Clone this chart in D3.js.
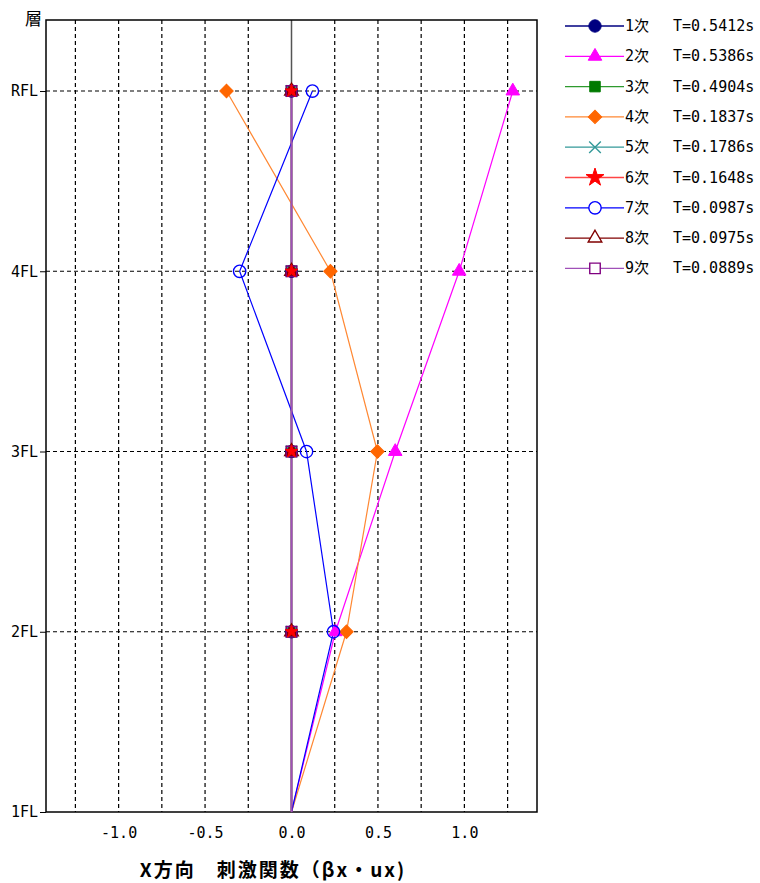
<!DOCTYPE html>
<html>
<head>
<meta charset="utf-8">
<script src="https://cdn.jsdelivr.net/npm/d3@7"></script>
<style>
  body { margin: 0; background: #fff; }
  text { font-family: "DejaVu Sans Mono", "Noto Sans CJK JP", monospace; }
</style>
</head>
<body>
<div id="chart"></div>
<script>
// floors, bottom to top
var floors = ["1FL", "2FL", "3FL", "4FL", "RFL"];
var xTicks = [-1.0, -0.5, 0.0, 0.5, 1.0];

var modeNames = ["1次", "2次", "3次", "4次", "5次", "6次", "7次", "8次", "9次"];
var periods = ["T=0.5412s", "T=0.5386s", "T=0.4904s", "T=0.1837s", "T=0.1786s",
               "T=0.1648s", "T=0.0987s", "T=0.0975s", "T=0.0889s"];

// βx・ux per floor (1FL..RFL)
var mode1 = [0, 0, 0, 0, 0];
var mode2 = [0, 0.254, 0.60, 0.97, 1.28];
var mode3 = [0, 0, 0, 0, 0];
var mode4 = [0, 0.318, 0.497, 0.225, -0.376];
var mode5 = [0, 0, 0, 0, 0];
var mode6 = [0, 0, 0, 0, 0];
var mode7 = [0, 0.243, 0.087, -0.30, 0.121];
var mode8 = [0, 0, 0, 0, 0];
var mode9 = [0, 0, 0, 0, 0];

var allModes = [mode1, mode2, mode3, mode4, mode5, mode6, mode7, mode8, mode9];

var styles = [
    {line: "#000080", fill: "#000080", stroke: "#000080", sym: d3.symbolCircle, size: 120},
    {line: "#ff00ff", fill: "#ff00ff", stroke: "#ff00ff", sym: d3.symbolTriangle, size: 80},
    {line: "#2e9a2e", fill: "#007a00", stroke: "#007a00", sym: d3.symbolSquare, size: 110},
    {line: "#ff8833", fill: "#ff6600", stroke: "#ff6600", sym: d3.symbolSquare, size: 90, rot: 45},
    {line: "#339999", fill: "none", stroke: "#339999", sym: d3.symbolTimes, size: 90},
    {line: "#ff4444", fill: "#ff0000", stroke: "#ff0000", sym: d3.symbolStar, size: 100, plotSize: 50},
    {line: "#0000ff", fill: "none", stroke: "#0000ff", sym: d3.symbolCircle, size: 120},
    {line: "#800000", fill: "none", stroke: "#800000", sym: d3.symbolTriangle, size: 80, plotFill: "#800000"},
    {line: "#a050b8", fill: "none", stroke: "#800080", sym: d3.symbolSquare, size: 110}
];

var svgWidth = 760, svgHeight = 883;
var svg = d3.select("#chart").append("svg")
    .attr("width", svgWidth)
    .attr("height", svgHeight);

var plotLeft = 46, plotRight = 537, plotTop = 20, plotBottom = 812;

var x = d3.scaleLinear().domain([-1.42, 1.42]).range([plotLeft, plotRight]);
var y = d3.scaleLinear().domain([0, 4.394]).range([plotBottom, plotTop]);

// vertical grid every 0.25
var grid = svg.append("g");
d3.range(-1.25, 1.26, 0.25).forEach(function (v) {
    if (Math.abs(v) < 1e-6) return;
    grid.append("line")
        .attr("x1", x(v)).attr("x2", x(v))
        .attr("y1", plotTop).attr("y2", plotBottom)
        .attr("stroke", "#000").attr("stroke-width", 1.2)
        .attr("stroke-dasharray", "4,3");
});
// horizontal grid on floors
floors.forEach(function (f, i) {
    if (i === 0) return;
    grid.append("line")
        .attr("x1", plotLeft).attr("x2", plotRight)
        .attr("y1", y(i)).attr("y2", y(i))
        .attr("stroke", "#000").attr("stroke-width", 1.2)
        .attr("stroke-dasharray", "4,3");
});

// zero line
svg.append("line")
    .attr("x1", x(0)).attr("x2", x(0))
    .attr("y1", plotTop).attr("y2", plotBottom)
    .attr("stroke", "#555").attr("stroke-width", 1.5);

// axes
var yAxis = d3.axisLeft(y)
    .tickValues(d3.range(floors.length))
    .tickFormat(function (d) { return floors[d]; })
    .tickSize(6).tickPadding(2);
var gy = svg.append("g").attr("transform", "translate(" + plotLeft + ",0)").call(yAxis);
gy.select(".domain").remove();
gy.selectAll("text").attr("font-size", 15).attr("fill", "#000")
    .style("font-family", "'DejaVu Sans Mono', monospace");
gy.selectAll("line").attr("stroke", "#000");

var xAxis = d3.axisBottom(x)
    .tickValues(xTicks)
    .tickFormat(d3.format(".1f"))
    .tickSize(0).tickPadding(15);
var gx = svg.append("g").attr("transform", "translate(0," + plotBottom + ")").call(xAxis);
gx.select(".domain").remove();
gx.selectAll("text").attr("font-size", 15).attr("fill", "#000")
    .text(function (d) { return d3.format(".1f")(d).replace("−", "-"); });

// frame
svg.append("rect")
    .attr("x", plotLeft).attr("y", plotTop)
    .attr("width", plotRight - plotLeft).attr("height", plotBottom - plotTop)
    .attr("fill", "none").attr("stroke", "#000").attr("stroke-width", 1.5);

var line = d3.line()
    .x(function (d) { return x(d); })
    .y(function (d, i) { return y(i); });

function symbolPath(s, size) {
    return d3.symbol().type(s.sym).size(size || s.size)();
}

var lineLayer = svg.append("g");
var markLayer = svg.append("g");
var topLayer = svg.append("g");   // stars stay visible on the stacked zero points

allModes.forEach(function (vals, k) {
    var s = styles[k];
    lineLayer.append("path")
        .attr("d", line(vals))
        .attr("fill", "none")
        .attr("stroke", s.line)
        .attr("stroke-width", k === 8 ? 1.8 : 1.2);
});

allModes.forEach(function (vals, k) {
    var s = styles[k];
    var layer = s.sym === d3.symbolStar ? topLayer : markLayer;
    layer.append("g").selectAll("path")
        .data(vals.slice(1))
        .enter()
        .append("path")
        .attr("d", symbolPath(s, s.plotSize))
        .attr("transform", function (d, i) {
            return "translate(" + x(d) + "," + y(i + 1) + ")" + (s.rot ? " rotate(" + s.rot + ")" : "");
        })
        .attr("fill", s.plotFill || (s.fill === "none" ? "none" : s.fill))
        .attr("stroke", s.stroke)
        .attr("stroke-width", s.fill === "none" ? 1.4 : 1);
});

// legend
var legend = svg.append("g");
modeNames.forEach(function (name, k) {
    var s = styles[k];
    var ly = 26 + k * 30.3;
    legend.append("line")
        .attr("x1", 565).attr("x2", 624)
        .attr("y1", ly).attr("y2", ly)
        .attr("stroke", s.line).attr("stroke-width", 1.3);
    legend.append("path")
        .attr("d", symbolPath(s))
        .attr("transform", "translate(595," + ly + ")" + (s.rot ? " rotate(" + s.rot + ")" : ""))
        .attr("fill", s.fill === "none" ? "#fff" : s.fill)
        .attr("stroke", s.stroke)
        .attr("stroke-width", s.fill === "none" ? 1.4 : 1);
    legend.append("text")
        .attr("x", 625).attr("y", ly + 5)
        .attr("font-size", 15)
        .text(name);
    legend.append("text")
        .attr("x", 673).attr("y", ly + 5)
        .attr("font-size", 15)
        .text(periods[k]);
});

// labels
svg.append("text")
    .attr("x", 42).attr("y", 25)
    .attr("text-anchor", "end")
    .attr("font-size", 17)
    .style("font-family", "'Noto Sans CJK JP', sans-serif")
    .text("層");

svg.append("text")
    .attr("x", 273).attr("y", 877)
    .attr("text-anchor", "middle")
    .attr("font-size", 19)
    .attr("font-weight", "bold")
    .attr("letter-spacing", 2)
    .style("font-family", "'Noto Sans CJK JP', sans-serif")
    .text("X方向　刺激関数（βx・ux)");
</script>
</body>
</html>
